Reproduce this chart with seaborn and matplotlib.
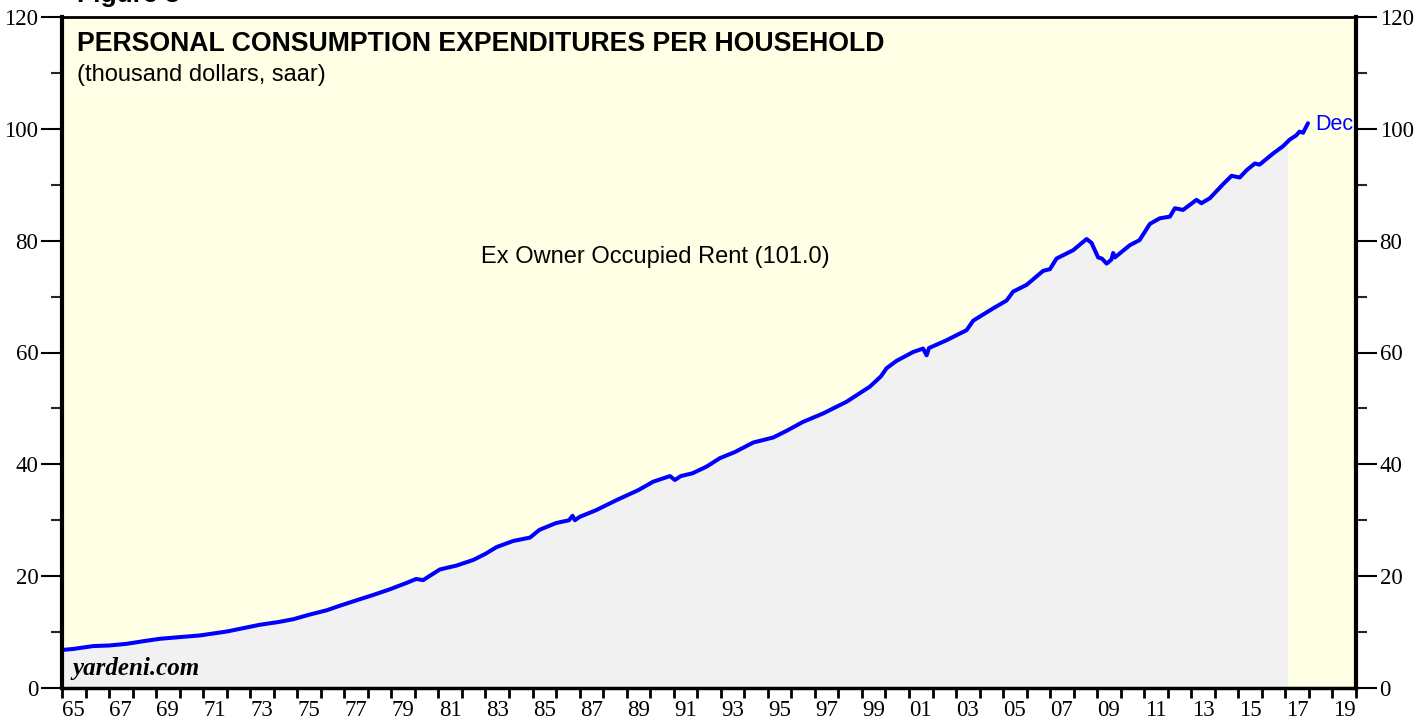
import numpy as np
import pandas as pd
import seaborn as sns
import matplotlib
matplotlib.use("Agg")
import matplotlib.pyplot as plt
from matplotlib.patches import Rectangle
from matplotlib.ticker import MultipleLocator, FixedLocator, NullFormatter, FixedFormatter

# ---- data (year fraction, thousand dollars) ----
dates = [1965.0, 1965.5, 1966.33, 1967.0, 1967.75, 1968.5, 1969.16, 1970.0, 1970.86, 1972.0,
         1973.4, 1974.2, 1974.83, 1975.5, 1976.25, 1976.8, 1977.6, 1978.2, 1978.9, 1979.65,
         1980.05, 1980.35, 1981.06, 1981.77, 1982.48, 1983.0, 1983.47, 1984.18, 1984.89, 1985.3,
         1986.0, 1986.55, 1986.7, 1986.8, 1987.0, 1987.7, 1988.57, 1989.5, 1990.13, 1990.84,
         1991.05, 1991.3, 1991.8, 1992.4, 1992.96, 1993.6, 1994.38, 1995.23, 1995.8, 1996.5,
         1997.35, 1998.35, 1999.34, 1999.8, 2000.05, 2000.47, 2001.18, 2001.6, 2001.75, 2001.85,
         2002.6, 2003.45, 2003.73, 2004.58, 2005.15, 2005.43, 2006.0, 2006.7, 2006.99, 2007.27,
         2007.98, 2008.55, 2008.76, 2009.04, 2009.2, 2009.4, 2009.6, 2009.68, 2009.75, 2010.39,
         2010.8, 2011.24, 2011.66, 2012.09, 2012.3, 2012.65, 2013.22, 2013.43, 2013.79, 2014.35,
         2014.71, 2015.06, 2015.35, 2015.7, 2015.9, 2016.48, 2016.9, 2017.19, 2017.45, 2017.6,
         2017.75, 2017.96]
values = [6.8, 7.0, 7.5, 7.6, 7.9, 8.4, 8.8, 9.1, 9.4, 10.1,
          11.3, 11.8, 12.3, 13.1, 13.9, 14.7, 15.8, 16.6, 17.6, 18.8,
          19.5, 19.3, 21.2, 21.9, 22.9, 24.0, 25.2, 26.3, 26.9, 28.3,
          29.5, 30.0, 30.8, 30.0, 30.6, 31.8, 33.6, 35.4, 36.9, 37.9,
          37.2, 37.9, 38.4, 39.6, 41.1, 42.2, 43.9, 44.8, 46.0, 47.6,
          49.1, 51.2, 53.9, 55.7, 57.2, 58.5, 60.1, 60.7, 59.5, 60.8,
          62.2, 64.0, 65.7, 67.9, 69.3, 70.9, 72.1, 74.6, 74.9, 76.8,
          78.3, 80.3, 79.6, 77.0, 76.8, 75.9, 76.6, 77.8, 77.0, 79.2,
          80.1, 83.0, 84.0, 84.3, 85.8, 85.5, 87.3, 86.7, 87.6, 90.1,
          91.6, 91.3, 92.6, 93.8, 93.6, 95.6, 96.9, 98.1, 98.8, 99.5,
          99.3, 101.0]
year_labels = ["65", "67", "69", "71", "73", "75", "77", "79", "81", "83", "85", "87", "89",
               "91", "93", "95", "97", "99", "01", "03", "05", "07", "09", "11", "13", "15",
               "17", "19"]
y_major = [0, 20, 40, 60, 80, 100, 120]

title = "PERSONAL CONSUMPTION EXPENDITURES PER HOUSEHOLD"
subtitle = "(thousand dollars, saar)"
series_label = "Ex Owner Occupied Rent (101.0)"
end_label = "Dec"
shade_end = 2017.06

df = pd.DataFrame({"date": dates, "value": values})

sns.set_theme(style="ticks")
plt.rcParams["font.family"] = ["Liberation Sans", "DejaVu Sans"]

fig = plt.figure(figsize=(14.27, 7.19), dpi=100)
ax = fig.add_axes([62 / 1427, 1 - 688 / 719, (1356 - 62) / 1427, (688 - 17) / 719])
ax.set_facecolor("#FFFFE6")

# shaded area under the curve (clipped to end of shading)
poly = ax.fill_between(df["date"], 0, df["value"], color="#F1F1F1", lw=0, zorder=1)
clip = Rectangle((1965, 0), shade_end - 1965, 120, transform=ax.transData)
poly.set_clip_path(clip)

sns.lineplot(data=df, x="date", y="value", ax=ax, color="#0000FF", lw=2.9, zorder=3)

ax.set_xlim(1965, 2020)
ax.set_ylim(0, 120)
ax.set_xlabel("")
ax.set_ylabel("")

# y ticks on both sides
ax.yaxis.set_major_locator(FixedLocator(y_major))
ax.yaxis.set_minor_locator(MultipleLocator(10))
ax.tick_params(axis="y", which="major", length=15, width=1.5, direction="out",
               left=True, right=True, labelleft=True, labelright=True, labelsize=16.5, pad=2,
               colors="black")
ax.tick_params(axis="y", which="minor", length=8, width=1.5, direction="out",
               left=True, right=True)
for lab in ax.get_yticklabels():
    lab.set_fontfamily("Liberation Serif")

# x: tick every year, labels at mid-year of odd years
ax.xaxis.set_major_locator(FixedLocator(np.arange(1965, 2021, 1)))
ax.xaxis.set_major_formatter(NullFormatter())
label_pos = [1965.5 + 2 * i for i in range(len(year_labels))]
ax.xaxis.set_minor_locator(FixedLocator(label_pos))
ax.xaxis.set_minor_formatter(FixedFormatter(year_labels))
ax.tick_params(axis="x", which="major", length=7, width=2, direction="out", colors="black")
ax.tick_params(axis="x", which="minor", length=0, labelsize=16.5, pad=9, colors="black")
for lab in ax.get_xticklabels(minor=True):
    lab.set_fontfamily("Liberation Serif")

for side, lw in [("left", 3), ("right", 3), ("top", 2), ("bottom", 2.5)]:
    ax.spines[side].set_visible(True)
    ax.spines[side].set_color("black")
    ax.spines[side].set_linewidth(lw)
    ax.spines[side].set_zorder(5)
ax.grid(False)

# texts
ax.text(0.0116, 0.979, title, transform=ax.transAxes, fontsize=19.2, fontweight="bold",
        va="top", ha="left", color="black")
ax.text(0.0116, 0.93, subtitle, transform=ax.transAxes, fontsize=17,
        va="top", ha="left", color="black")
ax.text(0.4585, 0.643, series_label, transform=ax.transAxes, fontsize=17,
        va="center", ha="center", color="black")
ax.text(dates[-1] + 0.3, values[-1] - 0.3, end_label, fontsize=15.5, color="#0000FF",
        va="center", ha="left")
ax.text(0.0085, 0.012, "yardeni.com", transform=ax.transAxes, fontsize=18,
        fontweight="bold", fontstyle="italic", fontfamily="Liberation Serif",
        va="bottom", ha="left", color="black")
fig.text(77 / 1427, 1 - 2 / 719, "Figure 3", fontsize=19, fontweight="bold",
         va="baseline", ha="left", color="black")

fig.savefig("out.png", dpi=100, facecolor="white")
